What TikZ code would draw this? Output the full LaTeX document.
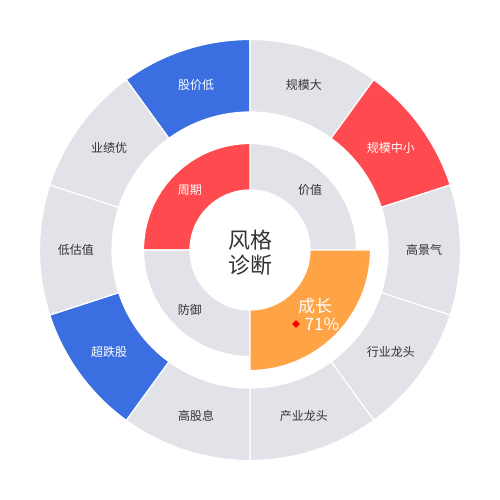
\documentclass[tikz,border=0pt]{standalone}
\usepackage{fontspec}
\setmainfont{Noto Sans CJK SC}
\usetikzlibrary{shapes.geometric,positioning}

\definecolor{ringgray}{HTML}{E2E3E9}
\definecolor{styleblue}{HTML}{3B6EE0}
\definecolor{stylered}{HTML}{FF4B4F}
\definecolor{styleorange}{HTML}{FFA446}
\definecolor{labeldark}{HTML}{333333}

\begin{document}
\begin{tikzpicture}[
    x=1pt, y=1pt,
    sector/.style={draw=white, line width=1.2pt},
    ringlabel/.style={font=\fontsize{12}{14}\selectfont},
    centerlabel/.style={font=\fontsize{22}{24}\selectfont, text=labeldark},
    hitlabel/.style={font=\fontsize{17}{19}\selectfont, text=white}
]
\useasboundingbox (-250,-250) rectangle (250,250);

% outer ring: start angle / label / fill / text colour
\foreach \s/\txt/\col/\tcol [count=\i, evaluate=\s as \e using \s+36, evaluate=\s as \m using \s+18] in
    {90/股价低/styleblue/white, 54/规模大/ringgray/labeldark, 18/规模中小/stylered/white,
     -18/高景气/ringgray/labeldark, -54/行业龙头/ringgray/labeldark, -90/产业龙头/ringgray/labeldark,
     -126/高股息/ringgray/labeldark, -162/超跌股/styleblue/white, 162/低估值/ringgray/labeldark,
     126/业绩优/ringgray/labeldark}
{
    \filldraw[sector, fill=\col] (\s:138) arc[start angle=\s, end angle=\e, radius=138]
        -- (\e:210.5) arc[start angle=\e, end angle=\s, radius=210.5] -- cycle;
    \node[ringlabel, text=\tcol] (outer\i) at (\m:174) {\txt};
}

% inner ring
\foreach \s/\txt/\col/\tcol [count=\i, evaluate=\s as \e using \s+90, evaluate=\s as \m using \s+45] in
    {0/价值/ringgray/labeldark, 90/周期/stylered/white, 180/防御/ringgray/labeldark}
{
    \filldraw[sector, fill=\col] (\s:60) arc[start angle=\s, end angle=\e, radius=60]
        -- (\e:106.5) arc[start angle=\e, end angle=\s, radius=106.5] -- cycle;
    \node[ringlabel, text=\tcol] (inner\i) at (\m:85) {\txt};
}
\filldraw[sector, fill=styleorange] (270:60) arc[start angle=270, end angle=360, radius=60]
    -- (0:120.5) arc[start angle=360, end angle=270, radius=120.5] -- cycle;

\node[hitlabel] (growth) at (65,-56) {成长};
\node[hitlabel] (growthpct) at (72,-74) {71\%};
\node[diamond, fill=red, inner sep=0pt, minimum size=8pt, left=1pt of growthpct] (marker) {};

\node[centerlabel] (title1) at (0,10) {风格};
\node[centerlabel] (title2) at (0,-15) {诊断};

\end{tikzpicture}
\end{document}
